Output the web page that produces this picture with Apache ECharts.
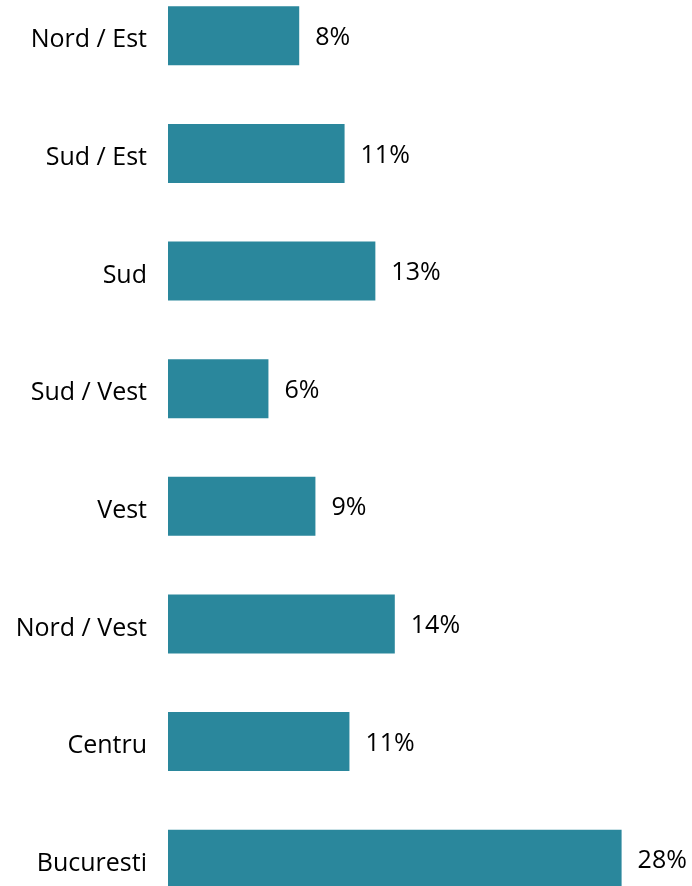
<!DOCTYPE html>
<html>
<head>
<meta charset="utf-8">
<script src="https://cdn.jsdelivr.net/npm/echarts@6/dist/echarts.min.js"></script>
<style>
  html, body { margin: 0; padding: 0; background: #fff; }
  #viz { width: 692px; height: 886px; }
</style>
</head>
<body>
<div id="viz"></div>
<script>
// Regions, top to bottom
const regions = ['Nord / Est', 'Sud / Est', 'Sud', 'Sud / Vest', 'Vest', 'Nord / Vest', 'Centru', 'Bucuresti'];
// Share of respondents (%)
const shares = [8.1, 10.9, 12.8, 6.2, 9.1, 14.0, 11.2, 28.0];

const FONT = '"Open Sans", sans-serif';

var myChart = echarts.init(document.getElementById('viz'));

var option = {
    animation: false,
    grid: {
        left: 168,
        right: 38,
        top: -23,
        bottom: -32,
        outerBoundsMode: 'none'
    },
    xAxis: {
        type: 'value',
        min: 0,
        max: 30,
        show: false
    },
    yAxis: {
        type: 'category',
        data: regions,
        inverse: true,
        axisLine: { show: false },
        axisTick: { show: false },
        axisLabel: {
            margin: 21,
            formatter: v => '{r|' + v + '}',
            rich: {
                r: {
                    padding: [9, 0, 0, 0],
                    color: '#000',
                    fontFamily: FONT,
                    fontSize: 25
                }
            }
        }
    },
    series: [{
        type: 'bar',
        data: shares,
        barWidth: 59,
        itemStyle: { color: '#2A879C' },
        label: {
            show: true,
            position: 'right',
            distance: 16,
            offset: [0, 2],
            color: '#000',
            fontFamily: FONT,
            fontSize: 25,
            formatter: p => Math.round(p.value) + '%'
        }
    }]
};

myChart.setOption(option);
</script>
</body>
</html>
